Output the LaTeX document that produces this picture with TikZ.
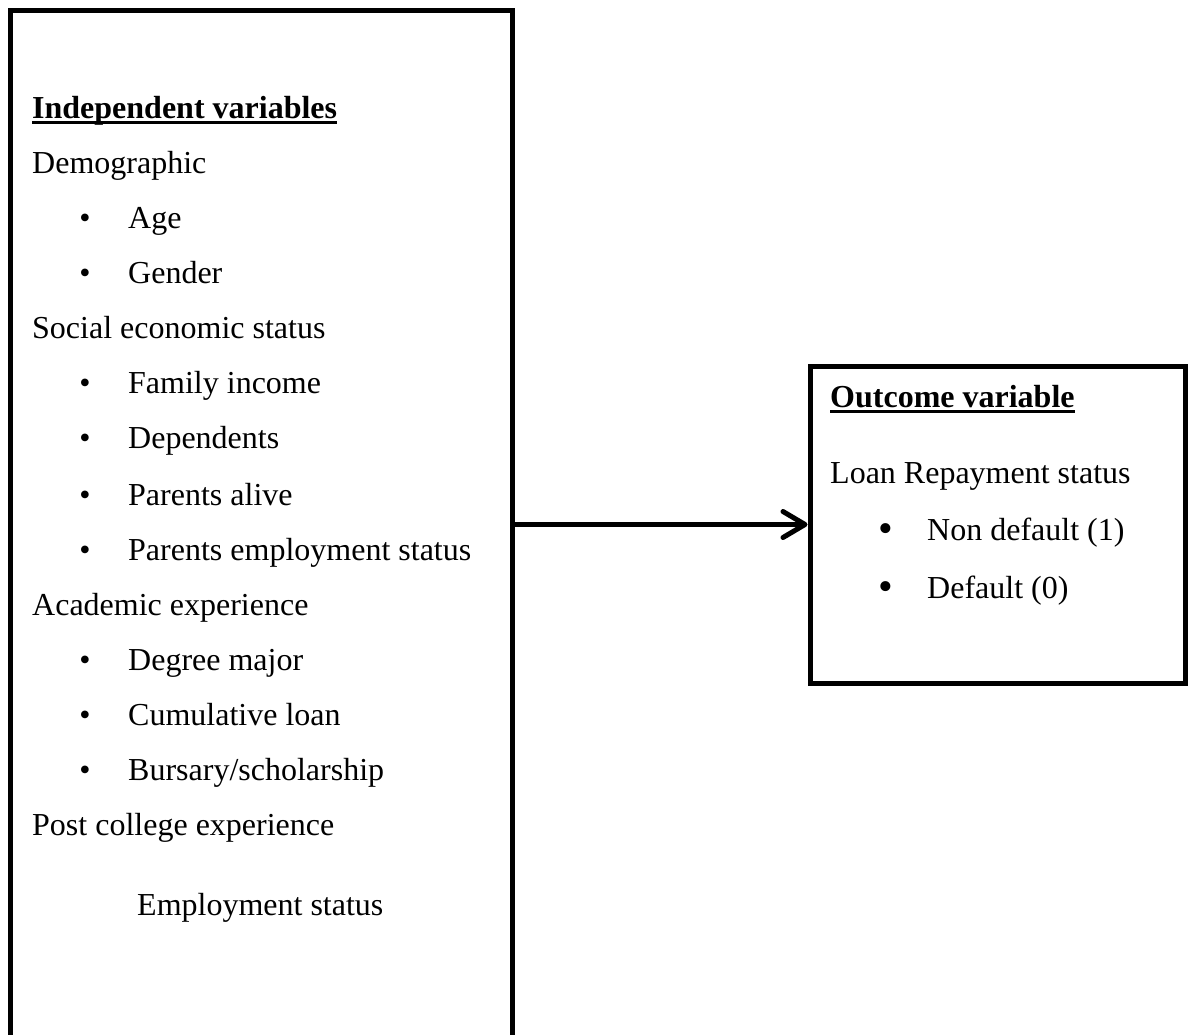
\documentclass[tikz,border=0pt]{standalone}
\usepackage{fontspec}
\setmainfont{Liberation Serif}
\usetikzlibrary{arrows.meta}
\newcommand{\myul}[1]{\setbox0\hbox{#1}\rlap{\rule[-5.5pt]{\wd0}{2.8pt}}\box0}
\begin{document}
\begin{tikzpicture}[x=1pt,y=-1pt,
  boxframe/.style={draw, line width=5pt, inner sep=0pt},
  txt/.style={anchor=base west, inner sep=0pt, font=\fontsize{32}{38}\selectfont},
  bul/.style={anchor=base, inner sep=0pt, font=\fontsize{32}{38}\selectfont},
  bigbul/.style={anchor=base, inner sep=0pt, font=\fontsize{42}{48}\selectfont},
  link/.style={line width=5pt, -{Straight Barb[length=22pt,width=26pt,line cap=round,line join=round]}}]
\useasboundingbox (0,0) rectangle (1189,1034);
\clip (0,0) rectangle (1189,1034);
% boxes
\node[boxframe, minimum width=502pt, minimum height=1060pt] (indep) at (261,540) {};
\node[boxframe, minimum width=375pt, minimum height=317pt] (outc) at (997.5,524.5) {};
% left box text
\node[txt] (h1) at (32,118) {\bfseries\myul{Independent variables}};
\node[txt] (g1) at (32,173) {Demographic};
\node[bul] (b1) at (85,228) {\textbullet};
\node[txt] (i1) at (128,228) {Age};
\node[bul] (b2) at (85,283) {\textbullet};
\node[txt] (i2) at (128,283) {Gender};
\node[txt] (g2) at (32,338) {Social economic status};
\node[bul] (b3) at (85,393) {\textbullet};
\node[txt] (i3) at (128,393) {Family income};
\node[bul] (b4) at (85,448) {\textbullet};
\node[txt] (i4) at (128,448) {Dependents};
\node[bul] (b5) at (85,505) {\textbullet};
\node[txt] (i5) at (128,505) {Parents alive};
\node[bul] (b6) at (85,560) {\textbullet};
\node[txt] (i6) at (128,560) {Parents employment status};
\node[txt] (g3) at (32,615) {Academic experience};
\node[bul] (b7) at (85,670) {\textbullet};
\node[txt] (i7) at (128,670) {Degree major};
\node[bul] (b8) at (85,725) {\textbullet};
\node[txt] (i8) at (128,725) {Cumulative loan};
\node[bul] (b9) at (85,780) {\textbullet};
\node[txt] (i9) at (128,780) {Bursary/scholarship};
\node[txt] (g4) at (32,835) {Post college experience};
\node[txt] (i10) at (137,915) {Employment status};
% right box text
\node[txt] (h2) at (830,407) {\bfseries\myul{Outcome variable}};
\node[txt] (g5) at (830,483) {Loan Repayment status};
\node[bigbul] (b10) at (886,542) {\textbullet};
\node[txt] (i11) at (927,540) {Non default (1)};
\node[bigbul] (b11) at (886,600) {\textbullet};
\node[txt] (i12) at (927,598) {Default (0)};
% connector
\draw[link] (indep.east |- outc.west) -- (outc.west);
\end{tikzpicture}
\end{document}
